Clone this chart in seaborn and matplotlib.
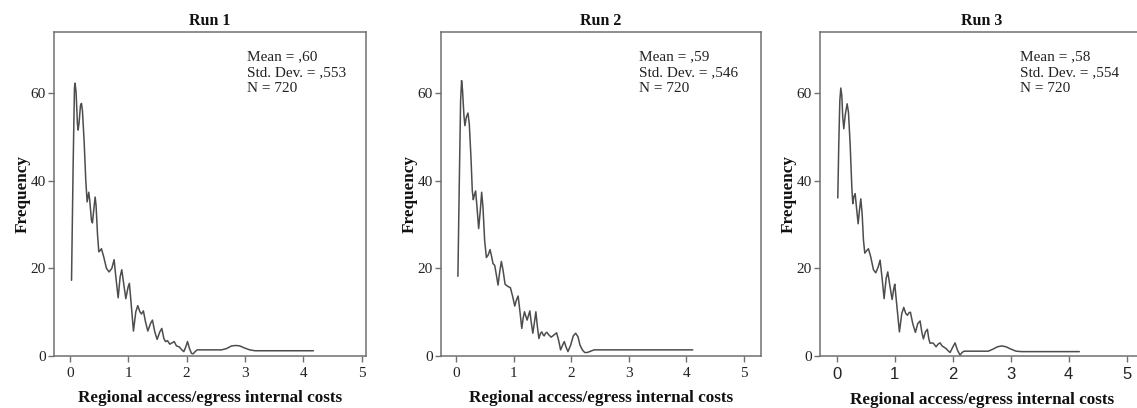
import matplotlib
matplotlib.use("Agg")
import matplotlib.pyplot as plt
import seaborn as sns
import pandas as pd

# Smoothed frequency curves of regional access/egress internal costs, three runs
run1_cost = [0.03, 0.057, 0.08, 0.091, 0.108, 0.131, 0.143, 0.16, 0.183, 0.20, 0.217, 0.245, 0.274,
             0.297, 0.325, 0.342, 0.371, 0.388, 0.41, 0.434, 0.45, 0.474, 0.497, 0.514, 0.542,
             0.582, 0.628, 0.673, 0.719, 0.759, 0.788, 0.828, 0.862, 0.89, 0.919, 0.959, 0.999,
             1.02, 1.045, 1.09, 1.13, 1.164, 1.20, 1.227, 1.26, 1.296, 1.336, 1.381, 1.415,
             1.455, 1.495, 1.541, 1.575, 1.61, 1.638, 1.672, 1.712, 1.752, 1.787, 1.826, 1.872,
             1.918, 1.952, 1.986, 2.015, 2.049, 2.083, 2.112, 2.146, 2.18, 2.597, 2.683, 2.768,
             2.84, 2.91, 2.997, 3.08, 3.17, 4.17]
run1_freq = [17.3, 43.1, 61.2, 62.3, 60.2, 53.0, 51.6, 53.4, 57.2, 57.7, 56.0, 49.2, 40.1,
             35.2, 37.4, 35.5, 31.0, 30.4, 33.3, 36.3, 34.4, 27.9, 23.8, 24.0, 24.5,
             22.6, 20.0, 19.2, 20.0, 22.0, 18.1, 13.3, 18.1, 19.7, 16.9, 13.1, 15.8,
             16.6, 12.8, 5.7, 10.1, 11.5, 10.1, 9.6, 10.3, 7.8, 5.7, 7.4, 8.2,
             5.5, 3.8, 5.5, 6.3, 4.0, 3.3, 3.5, 2.7, 3.0, 3.3, 2.3, 2.1,
             1.4, 1.0, 2.1, 3.3, 1.7, 0.6, 0.5, 1.0, 1.4, 1.4, 1.7, 2.3,
             2.4, 2.3, 1.8, 1.4, 1.2, 1.2]

run2_cost = [0.029, 0.052, 0.076, 0.093, 0.11, 0.134, 0.151, 0.175, 0.204, 0.227, 0.256, 0.279,
             0.297, 0.314, 0.337, 0.361, 0.39, 0.419, 0.442, 0.465, 0.494, 0.524, 0.553, 0.588,
             0.617, 0.64, 0.669, 0.698, 0.727, 0.756, 0.785, 0.814, 0.849, 0.896, 0.942, 0.983,
             1.018, 1.047, 1.076, 1.105, 1.14, 1.163, 1.187, 1.21, 1.233, 1.257, 1.28, 1.303,
             1.332, 1.361, 1.385, 1.408, 1.437, 1.466, 1.489, 1.512, 1.53, 1.553, 1.576, 1.611,
             1.652, 1.699, 1.745, 1.78, 1.815, 1.85, 1.879, 1.908, 1.943, 1.99, 2.036, 2.077,
             2.117, 2.152, 2.193, 2.234, 2.28, 2.338, 2.397, 4.113]
run2_freq = [18.2, 38.6, 58.3, 62.9, 60.6, 54.9, 52.6, 54.5, 55.5, 53.0, 45.4, 37.8,
             35.7, 36.7, 37.7, 34.0, 29.1, 33.3, 37.4, 34.0, 26.4, 22.5, 23.0, 24.3,
             22.6, 21.1, 20.7, 18.5, 16.2, 19.2, 21.6, 19.6, 16.4, 15.9, 15.6, 13.5,
             11.4, 12.8, 13.7, 10.5, 6.3, 8.6, 10.1, 9.1, 8.2, 9.3, 10.3, 7.8,
             5.2, 7.8, 10.1, 7.1, 4.0, 5.2, 5.5, 4.8, 4.6, 5.2, 5.4, 4.8,
             4.3, 4.8, 5.3, 3.6, 1.4, 2.5, 3.3, 2.1, 1.0, 2.5, 4.6, 5.2,
             4.4, 2.5, 1.4, 0.8, 0.8, 1.1, 1.4, 1.4]

run3_cost = [0.017, 0.034, 0.052, 0.069, 0.086, 0.103, 0.121, 0.144, 0.178, 0.201, 0.23, 0.259,
             0.276, 0.293, 0.316, 0.339, 0.368, 0.391, 0.414, 0.437, 0.46, 0.483, 0.511, 0.546,
             0.586, 0.632, 0.672, 0.713, 0.747, 0.782, 0.816, 0.851, 0.879, 0.914, 0.954, 0.983,
             1.0, 1.029, 1.08, 1.121, 1.155, 1.19, 1.218, 1.247, 1.27, 1.31, 1.356, 1.397,
             1.437, 1.466, 1.494, 1.529, 1.563, 1.586, 1.609, 1.638, 1.667, 1.713, 1.747, 1.782,
             1.816, 1.851, 1.885, 1.92, 1.954, 2.0, 2.04, 2.08, 2.126, 2.161, 2.195, 2.615,
             2.70, 2.77, 2.845, 2.92, 3.0, 3.092, 3.19, 4.184]
run3_freq = [36.1, 48.4, 58.3, 61.2, 59.5, 54.5, 51.9, 54.9, 57.6, 55.7, 48.4, 38.6,
             34.8, 36.3, 37.1, 34.0, 30.2, 33.3, 35.9, 32.5, 26.4, 23.5, 24.0, 24.5,
             22.6, 19.7, 19.0, 20.3, 21.9, 17.7, 13.1, 17.7, 19.2, 16.2, 12.9, 15.4,
             16.4, 12.4, 5.5, 9.7, 11.1, 9.7, 9.3, 9.9, 10.0, 7.4, 5.4, 7.4,
             8.0, 5.5, 3.9, 5.5, 6.1, 4.0, 2.9, 3.0, 2.9, 2.1, 2.7, 3.0,
             2.3, 2.0, 1.7, 1.2, 0.8, 2.0, 3.0, 1.4, 0.2, 0.8, 1.1, 1.1,
             1.6, 2.1, 2.3, 2.1, 1.6, 1.1, 1.0, 1.0]

run_titles = ["Run 1", "Run 2", "Run 3"]
run_means = [",60", ",59", ",58"]
run_sds = [",553", ",546", ",554"]
run_n = [720, 720, 720]

x_ticks = [0, 1, 2, 3, 4, 5]
y_ticks = [0, 20, 40, 60]

sns.set_theme(style="white")
plt.rcParams["font.family"] = ["Liberation Serif", "DejaVu Serif"]
plt.rcParams["axes.edgecolor"] = "#707070"
plt.rcParams["axes.linewidth"] = 1.1

W, H = 1137, 408
fig = plt.figure(figsize=(W / 100, H / 100), dpi=100)

# axes boxes in pixels: (left, right, top, bottom) and x-limits
boxes = [(54, 366, 32, 356), (441, 761, 32, 356), (820, 1144, 32, 356)]
xlims = [(-0.27, 5.07), (-0.265, 5.3), (-0.29, 5.3)]

curves = [(run1_cost, run1_freq), (run2_cost, run2_freq), (run3_cost, run3_freq)]
line_color = "#4d4d4d"

for i, ((l, r, t, b), (xs, ys)) in enumerate(zip(boxes, curves)):
    ax = fig.add_axes([l / W, (H - b) / H, (r - l) / W, (b - t) / H])
    df = pd.DataFrame({"cost": xs, "freq": ys})
    sns.lineplot(data=df, x="cost", y="freq", ax=ax, sort=False,
                 color=line_color, linewidth=1.1, estimator=None)
    for ln in ax.get_lines():
        ln.set_solid_joinstyle("round")
        ln.set_solid_capstyle("round")
    ax.set_xlim(*xlims[i])
    ax.set_ylim(0, 74)
    ax.set_xticks(x_ticks)
    ax.set_yticks(y_ticks)
    ax.tick_params(axis="both", which="both", direction="out", length=4, width=1.0,
                   color="#707070", labelsize=11, labelcolor="#222222",
                   bottom=True, left=True)
    ax.tick_params(axis="x", pad=4)
    ax.tick_params(axis="y", pad=2)
    if i == 2:
        for lab in ax.get_xticklabels():
            lab.set_family(["Liberation Sans", "DejaVu Sans"])
            lab.set_fontsize(12)
    ax.set_title(run_titles[i], fontsize=11.5, fontweight="bold", pad=5, color="#111111")
    ax.set_xlabel("Regional access/egress internal costs", fontsize=12.3, fontweight="bold",
                  labelpad=7, color="#111111")
    ax.set_ylabel("Frequency", fontsize=12.3, fontweight="bold", labelpad=0, color="#111111")
    stats = f"Mean = {run_means[i]}\nStd. Dev. = {run_sds[i]}\nN = {run_n[i]}"
    ax.text(0.618, 0.944, stats, transform=ax.transAxes, ha="left", va="top",
            fontsize=11, linespacing=1.3, color="#222222")

fig.savefig("out.png", dpi=100, facecolor="white")
